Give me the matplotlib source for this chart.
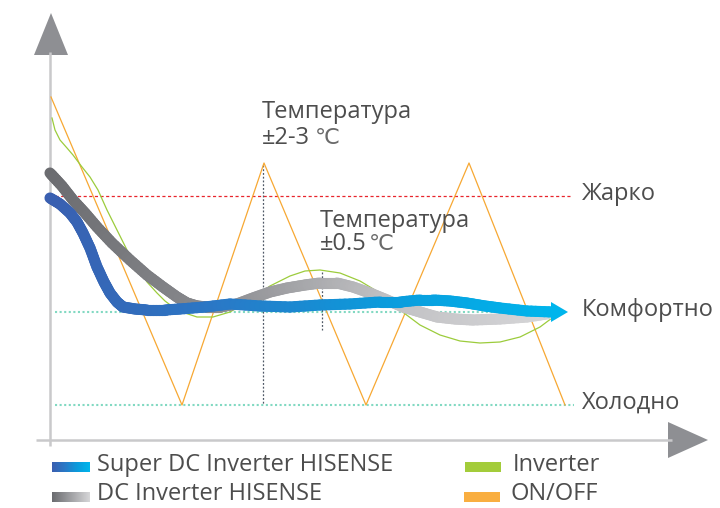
import matplotlib
matplotlib.use("Agg")
import matplotlib.pyplot as plt
import numpy as np
from matplotlib.collections import LineCollection
from matplotlib.colors import LinearSegmentedColormap
from matplotlib.patches import Polygon

plt.rcParams['font.family'] = ['Open Sans', 'DejaVu Sans']

# ---- data (picture units: x to the right, y downward) ----
onoff_x = [51, 182, 264, 366, 469, 565]
onoff_y = [97, 405, 163, 405, 163, 405]

inverter_x = [52, 55, 60, 67, 73, 82, 90, 98, 107, 117, 127, 137, 147, 157, 165, 173, 185, 197, 213, 230,
              250, 270, 290, 305, 320, 340, 360, 380, 400, 420, 440, 460, 480, 500, 520, 540, 552]
inverter_y = [118, 130, 140, 148, 155, 167, 177, 190, 210, 230, 250, 267, 282, 293, 301, 307, 313, 317, 317, 312,
              300, 286, 276, 271, 270, 273, 281, 293, 310, 325, 335, 341, 343, 342, 337, 327, 318]

dc_x = [50, 62, 73, 85, 97, 112, 130, 147, 163, 177, 187, 197, 207, 220, 237, 253, 270, 287,
        305, 320, 337, 353, 370, 387, 403, 420, 437, 455, 473, 500, 527, 553]
dc_y = [173, 186, 200, 213, 227, 243, 260, 275, 287, 297, 303, 306, 307, 307, 304, 298, 292, 288,
        285, 283, 283, 287, 293, 300, 307, 312, 317, 319, 320, 319, 317, 313]

super_x = [50, 60, 70, 77, 83, 90, 97, 104, 110, 117, 123, 135, 147, 165, 180, 205, 230, 260,
           290, 320, 350, 380, 400, 420, 433, 450, 467, 485, 500, 527, 553]
super_y = [198, 204, 213, 222, 233, 248, 267, 282, 293, 302, 307, 309, 310, 310, 309, 307, 304, 306,
           307, 305, 304, 302, 302, 300, 300, 301, 303, 306, 308, 311, 312]

levels = {'Жарко': 196, 'Комфортно': 312, 'Холодно': 405}
legend_labels = ['Super DC Inverter HISENSE', 'DC Inverter HISENSE', 'Inverter', 'ON/OFF']

fig = plt.figure(figsize=(7.2, 5.08), dpi=100)
ax = fig.add_axes([0, 0, 1, 1])
ax.set_xlim(0, 720)
ax.set_ylim(508, 0)
ax.axis('off')

txt = '#4d4d4d'
axis_c = '#c9c9cb'
head_c = '#8e8f93'
fs = 17

# axes with arrows
ax.plot([50, 50], [52, 446], color=axis_c, lw=1.8, solid_capstyle='butt')
ax.plot([36, 672], [440, 440], color=axis_c, lw=1.8, solid_capstyle='butt')
ax.add_patch(Polygon([[34, 55], [68, 55], [51, 13]], closed=True, color=head_c, lw=0))
ax.add_patch(Polygon([[668, 422], [668, 458], [708, 440]], closed=True, color=head_c, lw=0))

# reference levels
ax.plot([55, 572], [levels['Жарко']] * 2, color='#e8252c', lw=0.9, dashes=(2.5, 2))
ax.plot([55, 560], [levels['Комфортно']] * 2, color='#82d9c2', lw=1.5, dashes=(1, 1.2))
ax.plot([55, 574], [levels['Холодно']] * 2, color='#82d9c2', lw=1.5, dashes=(1, 1.2))
for lab, yv in levels.items():
    ax.text(582, yv - 2, lab, color=txt, fontsize=fs, va='center', ha='left')

# vertical markers
ax.plot([263, 263], [165, 405], color='#4f5866', lw=0.9, dashes=(1.5, 1.5))
ax.plot([322, 322], [272, 330], color='#4f5866', lw=0.9, dashes=(1.5, 1.5))

ax.plot(onoff_x, onoff_y, color='#f7a833', lw=0.9, zorder=3)
ax.plot(inverter_x, inverter_y, color='#9ccc3c', lw=0.9, zorder=3)


def grad_line(xs, ys, cmap, z):
    xs = np.asarray(xs, float)
    ys = np.asarray(ys, float)
    segs = []
    cols = []
    for i in range(len(xs) - 1):
        n = 6
        px = np.linspace(xs[i], xs[i + 1], n + 1)
        py = np.linspace(ys[i], ys[i + 1], n + 1)
        for k in range(n):
            segs.append([(px[k], py[k]), (px[k + 1], py[k + 1])])
            cols.append((px[k] - xs[0]) / (xs[-1] - xs[0]))
    lc = LineCollection(segs, colors=cmap(np.array(cols)), linewidths=8,
                        capstyle='round', joinstyle='round', zorder=z)
    ax.add_collection(lc)


gray_cm = LinearSegmentedColormap.from_list('g', ['#6b6c70', '#8a8b8f', '#c0c0c3', '#d6d6d8'])
blue_cm = LinearSegmentedColormap.from_list('b', ['#3a5fb0', '#2a78c6', '#0b9bdc', '#00b5ec'])

grad_line(dc_x, dc_y, gray_cm, 4)
grad_line(super_x, super_y, blue_cm, 5)
ax.add_patch(Polygon([[551, 302], [551, 322], [568, 312]], closed=True,
                     color='#00b5ec', lw=0, zorder=6))

# annotations
deg_c = '#6a6a6a'
ax.text(262, 112, 'Температура', color=txt, fontsize=fs, va='center', ha='left')
ax.text(262, 138, '±2-3', color=txt, fontsize=fs, va='center', ha='left')
ax.text(315, 138, '℃', color=deg_c, fontsize=16, va='center', ha='left', family=['DejaVu Sans'])
ax.text(320, 221, 'Температура', color=txt, fontsize=fs, va='center', ha='left')
ax.text(320, 244, '±0.5', color=txt, fontsize=fs, va='center', ha='left')
ax.text(369, 244, '℃', color=deg_c, fontsize=16, va='center', ha='left', family=['DejaVu Sans'])

# legend
grad = np.linspace(0, 1, 100).reshape(1, -1)
ax.imshow(grad, cmap=blue_cm, extent=[52, 90, 472, 462], aspect='auto', zorder=2)
ax.imshow(grad, cmap=LinearSegmentedColormap.from_list('gl', ['#6b6c70', '#d6d6d8']),
          extent=[52, 90, 502, 492], aspect='auto', zorder=2)
ax.add_patch(plt.Rectangle((465, 462), 36, 10, color='#a3cc3a', lw=0))
ax.add_patch(plt.Rectangle((464, 492), 36, 10, color='#f9ae40', lw=0))
ax.text(97, 465, legend_labels[0], color=txt, fontsize=fs, va='center', ha='left')
ax.text(97, 494, legend_labels[1], color=txt, fontsize=fs, va='center', ha='left')
ax.text(513, 465, legend_labels[2], color=txt, fontsize=fs, va='center', ha='left')
ax.text(511, 494, legend_labels[3], color=txt, fontsize=fs, va='center', ha='left')

fig.savefig('out.png', dpi=100)
